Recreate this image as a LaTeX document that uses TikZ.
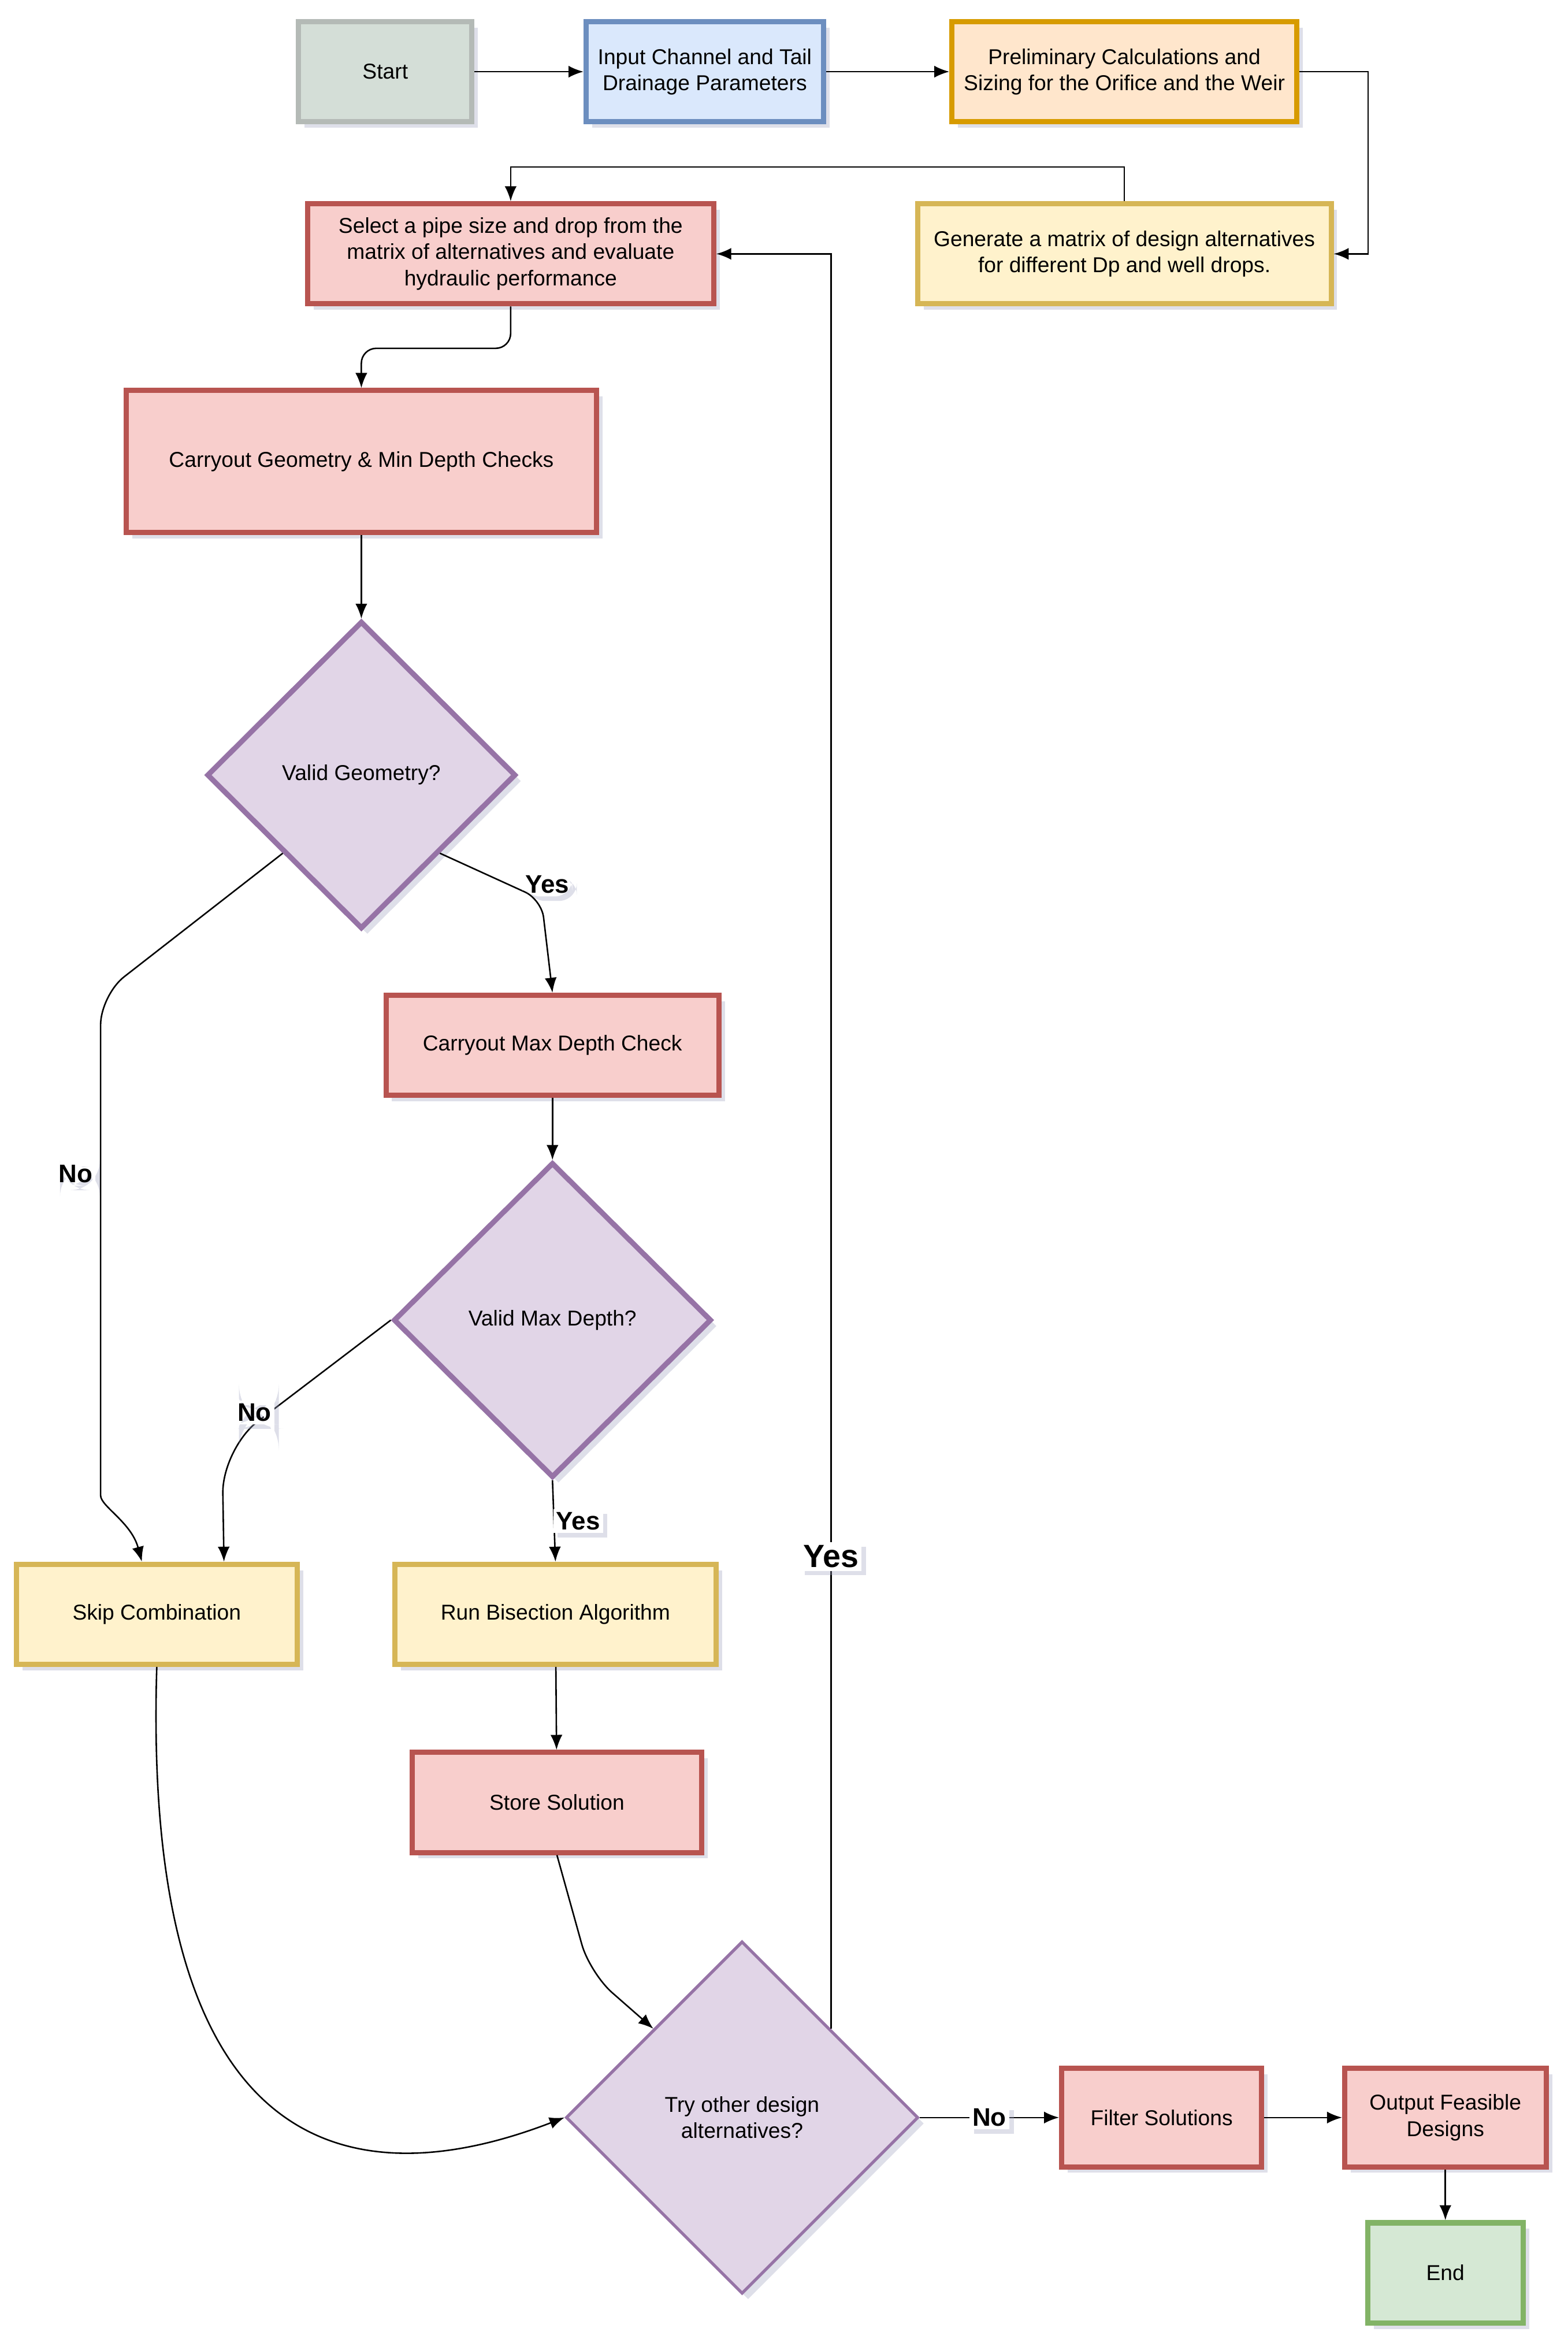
\documentclass[tikz,border=0pt]{standalone}
\usepackage{fontspec}
\setmainfont{Liberation Sans}
\usetikzlibrary{arrows.meta,shapes.geometric,shadows}
\definecolor{startFill}{HTML}{D4DED7}
\definecolor{startLine}{HTML}{B4BAB6}
\definecolor{blueFill}{HTML}{DAE8FC}
\definecolor{blueLine}{HTML}{6C8EBF}
\definecolor{orangeFill}{HTML}{FFE6CC}
\definecolor{orangeLine}{HTML}{D79B00}
\definecolor{yellowFill}{HTML}{FFF2CC}
\definecolor{yellowLine}{HTML}{D6B656}
\definecolor{redFill}{HTML}{F8CECC}
\definecolor{redLine}{HTML}{B85450}
\definecolor{purpleFill}{HTML}{E1D5E7}
\definecolor{purpleLine}{HTML}{9673A6}
\definecolor{greenFill}{HTML}{D5E8D4}
\definecolor{greenLine}{HTML}{82B366}
\definecolor{shadowCol}{HTML}{A0A4C0}
\tikzset{%
  >={Latex[width=8pt,length=10pt]},
  % Specifications for style of nodes:
         base/.style = {rectangle, draw, line width=3.5pt, minimum height=67pt,
                        text centered, align=center,
                        font=\fontsize{14.4}{17.5}\selectfont,
                        drop shadow={shadow xshift=4pt, shadow yshift=-4pt,
                                     fill=shadowCol, opacity=0.35}},
    startnode/.style = {base, fill=startFill, draw=startLine},
    inputnode/.style = {base, fill=blueFill, draw=blueLine},
     prepnode/.style = {base, fill=orangeFill, draw=orangeLine},
      process/.style = {base, fill=redFill, draw=redLine},
      altnode/.style = {base, fill=yellowFill, draw=yellowLine},
      endnode/.style = {base, fill=greenFill, draw=greenLine},
     decision/.style = {base, diamond, aspect=1, fill=purpleFill,
                        draw=purpleLine, inner sep=0pt},
          lbl/.style = {fill=white, inner sep=2pt,
                        font=\fontsize{17}{17}\selectfont\bfseries,
                        drop shadow={shadow xshift=3pt, shadow yshift=-3pt,
                                     fill=shadowCol, opacity=0.35}},
}
\begin{document}
\begin{tikzpicture}[x=1pt, y=-1pt, line width=1pt]
  \useasboundingbox (0,0) rectangle (1050,1569);
  % Specification of nodes (position, etc.)
  \node (start)    [startnode, minimum width=116pt] at (258,48)  {Start};
  \node (input)    [inputnode, minimum width=159pt] at (472,48)
        {Input Channel and Tail\\Drainage Parameters};
  \node (prelim)   [prepnode, minimum width=231pt]  at (753,48)
        {Preliminary Calculations and\\Sizing for the Orifice and the Weir};
  \node (generate) [altnode, minimum width=277pt]   at (753,170)
        {Generate a matrix of design alternatives\\for different Dp and well drops.};
  \node (select)   [process, minimum width=272pt]   at (342,170)
        {Select a pipe size and drop from the\\matrix of alternatives and evaluate\\hydraulic performance};
  \node (geocheck) [process, minimum width=315pt, minimum height=95pt] at (242,309)
        {Carryout Geometry \& Min Depth Checks};
  \node (validgeo) [decision, minimum width=207pt, minimum height=206pt] at (242,519)
        {Valid Geometry?};
  \node (maxcheck) [process, minimum width=223pt]   at (370,700)
        {Carryout Max Depth Check};
  \node (validmax) [decision, minimum width=213pt, minimum height=211pt] at (370,884)
        {Valid Max Depth?};
  \node (skip)     [altnode, minimum width=188pt]   at (105,1081) {Skip Combination};
  \node (bisect)   [altnode, minimum width=215pt]   at (372,1081) {Run Bisection Algorithm};
  \node (store)    [process, minimum width=194pt]   at (373,1207) {Store Solution};
  \node (tryalt)   [decision, line width=2pt, minimum width=236pt, minimum height=236pt]
        at (497,1418) {Try other design\\alternatives?};
  \node (filter)   [process, minimum width=134pt, minimum height=66pt] at (778,1418)
        {Filter Solutions};
  \node (output)   [process, minimum width=135pt, minimum height=66pt] at (968,1418)
        {Output Feasible\\Designs};
  \node (stop)     [endnode, minimum width=104pt]   at (968,1522) {End};

  \draw[->]   (start) -- (input);
  \draw[->]   (input) -- (prelim);
  \draw[->]  (prelim.east) -- ++(46,0) |- (generate.east);
  \draw[->] (generate.north) -- ++(0,-23) -| (select.north);
  \draw[->, rounded corners=10pt] (select.south) -- ++(0,28) -| (geocheck.north);
  \draw[->] (geocheck) -- (validgeo);
  \draw[->, rounded corners=20pt] (validgeo.south west) -- ++(-122,95)
     -- node[lbl, pos=0.38, anchor=east, xshift=-3pt] {No} ++(0,315)
     to[out=-90, in=105] ([xshift=-10pt]skip.north);
  \draw[->, rounded corners=12pt] (validgeo.south east)
     -- node[lbl, pos=1, xshift=4pt, yshift=10pt] {Yes} ++(68,31)
     -- (maxcheck.north);
  \draw[->] (maxcheck) -- (validmax);
  \draw[->, rounded corners=30pt] (validmax.west)
     -- node[lbl, pos=0.72, xshift=-10pt] {No} ++(-113,86)
     -- ([xshift=45pt]skip.north);
  \draw[->] (validmax.south) -- node[lbl, anchor=west, xshift=-1pt] {Yes} (bisect.north);
  \draw[->] (bisect) -- (store);
  \draw[->, rounded corners=20pt] (store.south) -- ++(22,79) -- (tryalt.north west);
  \draw[->] (skip.south) .. controls (95,1440) and (230,1475) .. (tryalt.west);
  \draw[->] (tryalt.north east) |- node[lbl, pos=0.133,
     font=\fontsize{21.5}{21.5}\selectfont\bfseries] {Yes} (select.east);
  \draw[->] (tryalt.east) -- node[lbl] {No} (filter.west);
  \draw[->] (filter) -- (output);
  \draw[->] (output) -- (stop);
\end{tikzpicture}
\end{document}
